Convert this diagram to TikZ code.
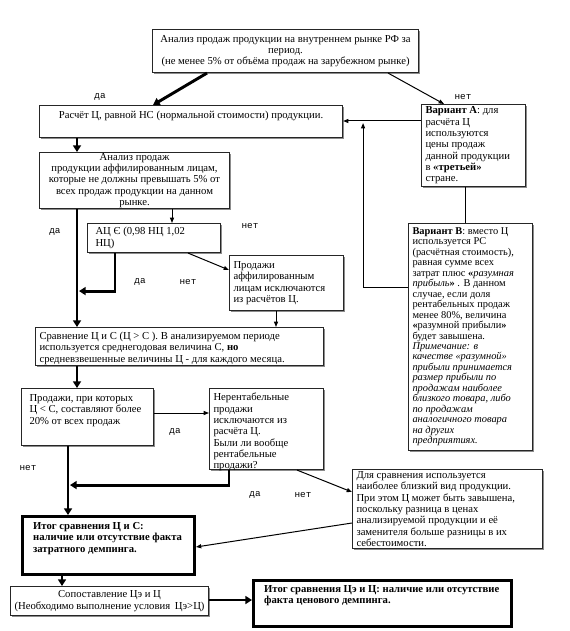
\documentclass[tikz,border=0pt]{standalone}
\usepackage{fontspec}
\setmainfont{Liberation Serif}
\newfontfamily\lblfont{Liberation Mono}
\usetikzlibrary{arrows.meta,calc,shadows}
\newcommand{\inbox}[4]{\parbox[c][#2][#3]{#1}{#4}}
\begin{document}
\begin{tikzpicture}[x=0.75pt,y=-0.75pt,
 basebox/.style={draw=black!85, line width=0.8pt, fill=white, inner xsep=3pt, inner ysep=2.5pt, anchor=north west, font=\fontsize{8}{8.5}\selectfont},
 box/.style={basebox, drop shadow={shadow xshift=1.2pt,shadow yshift=-1.2pt,fill=black!45,opacity=1}},
 heavybox/.style={basebox, line width=2.2pt, draw=black},
 thinarrow/.style={line width=0.75pt, -{Triangle[length=4pt,width=3pt]}},
 thickarrow/.style={line width=2.2pt, -{Triangle[length=5pt,width=6pt]}},
 lbl/.style={font=\lblfont\fontsize{7}{8}\selectfont, inner sep=0pt}
]
\fill[white] (0,0) rectangle (569,631);
\useasboundingbox (0,0) rectangle (569,631);

\node[box] (top) at (152,29) {\inbox{193.5pt}{27.25pt}{c}{\centering Анализ продаж продукции на внутреннем рынке РФ за\\ период.\\ (не менее 5\% от объёма продаж на зарубежном рынке)}};
\node[box] (calc) at (39,105) {\inbox{221.25pt}{19pt}{t}{\centering\vspace{2pt} Расчёт Ц, равной НС (нормальной стоимости) продукции.}};
\node[box] (varA) at (421,104) {\inbox{72pt}{56.5pt}{c}{\raggedright \textbf{Вариант А}: для\\ расчёта Ц\\ используются\\ цены продаж\\ данной продукции\\ в \textbf{«третьей»}\\ стране.}};
\node[box, font=\fontsize{7.8}{7.85}\selectfont] (varB) at (408,223) {\inbox{87pt}{165.25pt}{t}{\raggedright\vspace{0.5pt} \textbf{Вариант В}: вместо Ц\\
используется РС\\
(расчётная стоимость),\\
равная сумме всех\\
затрат плюс \textbf{«}\textit{разумная}\\
\textit{прибыль}\textbf{»} . В данном\\
случае, если доля\\
рентабельных продаж\\
менее 80\%, величина\\
\textbf{«}разумной прибыли\textbf{»}\\
будет завышена.\\
\textit{Примечание: в}\\
\textit{качестве «разумной»}\\
\textit{прибыли принимается}\\
\textit{размер прибыли по}\\
\textit{продажам наиболее}\\
\textit{близкого товара, либо}\\
\textit{по продажам}\\
\textit{аналогичного товара}\\
\textit{на других}\\
\textit{предприятиях.}}};
\node[box] (affil) at (39,152) {\inbox{136.5pt}{37pt}{c}{\centering Анализ продаж\\ продукции аффилированным лицам,\\ которые не должны превышать 5\% от\\ всех продаж продукции на данном\\ рынке.}};
\node[box] (ac) at (87,223) {\inbox{93.75pt}{16.75pt}{c}{\raggedright\leftskip=3pt АЦ Є (0,98 НЦ 1,02\\ НЦ)}};
\node[box] (excl) at (229,255) {\inbox{79.5pt}{36.25pt}{c}{\raggedright Продажи\\ аффилированным\\ лицам исключаются\\ из расчётов Ц.}};
\node[box] (cmp) at (35,327) {\inbox{210pt}{23.5pt}{t}{\raggedright\vspace{1pt} Сравнение Ц и С (Ц > С ). В анализируемом периоде\\ используется среднегодовая величина С, \textbf{но}\\ средневзвешенные величины Ц - для каждого месяца.}};
\node[box] (sales) at (21,388) {\inbox{93pt}{37.75pt}{t}{\raggedright\leftskip=3pt\vspace{2pt} Продажи, при которых\\ Ц < С, составляют более\\ 20\% от всех продаж}};
\node[box] (unprof) at (209,388) {\inbox{79.5pt}{55.75pt}{t}{\raggedright\vspace{1pt} Нерентабельные\\ продажи\\ исключаются из\\ расчёта Ц.\\ Были ли вообще\\ рентабельные\\ продажи?}};
\node[heavybox] (resC) at (21,515) {\inbox{123pt}{38.5pt}{t}{\raggedright\leftskip=5pt\vspace{2pt}\bfseries Итог сравнения Ц и С:\\ наличие или отсутствие факта\\ затратного демпинга.}};
\node[box] (comp) at (352,469) {\inbox{136.5pt}{54.25pt}{c}{\raggedright Для сравнения используется\\ наиболее близкий вид продукции.\\ При этом Ц может быть завышена,\\ поскольку разница в ценах\\ анализируемой продукции и её\\ заменителя больше разницы в их\\ себестоимости.}};
\node[box] (sop) at (10,586) {\inbox{142.5pt}{16.75pt}{c}{\centering Сопоставление Цэ и Ц\\ (Необходимо выполнение условия \ Цэ>Ц)}};
\node[heavybox] (resE) at (252,579) {\inbox{187.5pt}{29.5pt}{t}{\raggedright\leftskip=5pt\vspace{1pt}\bfseries Итог сравнения Цэ и Ц: наличие или отсутствие\\ факта ценового демпинга.}};

% connectors
\draw[thickarrow] ($(top.south west)+(55,0)$) -- ($(calc.north west)+(114,0)$);
\draw[thinarrow] ($(top.south east)+(-31,0)$) -- ($(varA.north west)+(23,0)$);
\draw[thinarrow] ($(varA.north west)+(0,17)$) -- ($(calc.north east)+(0,16)$);
\draw[line width=0.75pt] ($(varA.south west)+(44,0)$) -- ($(varB.north west)+(57,0)$);
\draw[thinarrow] ($(varB.north west)+(0,64)$) -| ($(calc.north east)+(20,18)$);
\draw[thickarrow] ($(calc.south west)+(38,0)$) -- ($(affil.north west)+(38,0)$);
\draw[thinarrow] ($(affil.south west)+(133,0)$) -- ($(ac.north west)+(85,0)$);
\draw[thickarrow] ($(affil.south west)+(38,0)$) -- ($(cmp.north west)+(42,0)$);
\draw[thickarrow] ($(ac.south west)+(28,0)$) |- ($(affil.south west)+(40,82)$);
\draw[thinarrow] ($(ac.south west)+(101,0)$) -- ($(excl.north west)+(0,15)$);
\draw[thinarrow] ($(excl.south west)+(47,0)$) -- ($(cmp.north west)+(241,0)$);
\draw[thickarrow] ($(cmp.south west)+(42,0)$) -- ($(sales.north west)+(56,0)$);
\draw[thinarrow] ($(sales.north east)+(0,25)$) -- ($(unprof.north west)+(0,25)$);
\draw[thickarrow] ($(sales.south west)+(47,0)$) -- ($(resC.north west)+(47,0)$);
\draw[thickarrow] ($(unprof.south west)+(20,0)$) |- ($(sales.south west)+(49,39)$);
\draw[thinarrow] ($(unprof.south west)+(88,0)$) -- ($(comp.north west)+(0,23)$);
\draw[thinarrow] ($(comp.north west)+(0,54)$) -- ($(resC.north east)+(0,32)$);
\draw[thickarrow] ($(resC.south west)+(41,0)$) -- ($(sop.north west)+(52,0)$);
\draw[thickarrow] ($(sop.north east)+(0,14)$) -- ($(resE.north west)+(0,21)$);

% labels
\node[lbl] (l1) at (100,97) {да};
\node[lbl] (l2) at (463,97) {нет};
\node[lbl] (l3) at (55,232) {да};
\node[lbl] (l4) at (250,226) {нет};
\node[lbl] (l5) at (140,282) {да};
\node[lbl] (l6) at (188,282) {нет};
\node[lbl] (l7) at (175,432) {да};
\node[lbl] (l8) at (28,468) {нет};
\node[lbl] (l9) at (255,495) {да};
\node[lbl] (l10) at (303,495) {нет};
\end{tikzpicture}
\end{document}
